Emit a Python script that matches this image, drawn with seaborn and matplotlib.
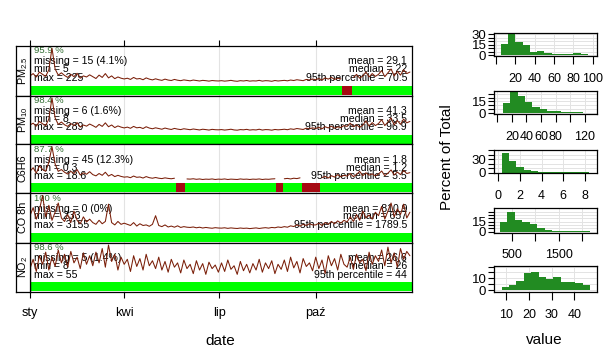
import numpy as np
import pandas as pd
import matplotlib
matplotlib.use("Agg")
import matplotlib.pyplot as plt
import seaborn as sns

sns.set_theme(style="white")
plt.rcParams["font.family"] = ["Liberation Sans", "DejaVu Sans"]
plt.rcParams["mathtext.fontset"] = "custom"
plt.rcParams["mathtext.rm"] = "Liberation Sans"
plt.rcParams["mathtext.it"] = "Liberation Sans:italic"
plt.rcParams["text.color"] = "black"
plt.rcParams["xtick.color"] = "black"
plt.rcParams["ytick.color"] = "black"
plt.rcParams["axes.labelcolor"] = "black"

# ---------------- data ----------------
variables = ["PM2.5", "PM10", "C6H6", "CO 8h", "NO2"]
strip_labels = [r"PM$_{2.5}$", r"PM$_{10}$", "C6H6", "CO 8h", r"NO$_2$"]
month_ticks = ["2013-01-01", "2013-04-01", "2013-07-01", "2013-10-01"]
month_labels = ["sty", "kwi", "lip", "paź"]

nan = np.nan
pm25 = [45, 60, 38, 70, 55, 42, 85, 225, 90, 50, 65,
        48, 35, 55, 40, 62, 30, 45, 38, 52,
        40, 28, 50, 35, 60, 32, 45, 27, 38, 30, 25,
        30, 22, 35, 25, 28, 20, 32, 24, 19, 26,
        20, 16, 24, 18, 15, 22, 17, 14, 19, 16,
        13, 18, 15, 12, 16, 14, 11, 15, 13, 12,
        14, 11, 13, 16, 12, 10, 14, 12, 15, 11,
        13, 12, 16, 11, 14, 13, 10, 15, 12, 14,
        16, 13, 18, 15, 20, 17, 14, 22, 18, 25,
        20, 28, 18, 32, 24, 35, 22, 30, 26, nan,
        nan, nan, 35, 55, 30, 45, 70, 38, 60, 42,
        55, 80, 40, 65, 90, 45, 75, 50, 85, 60, 70]
pm10 = [60, 75, 50, 90, 70, 55, 110, 289, 120, 65, 85,
        62, 48, 72, 55, 80, 42, 60, 50, 68,
        55, 40, 65, 48, 78, 45, 60, 38, 52, 42, 35,
        42, 32, 48, 36, 40, 30, 45, 34, 28, 36,
        30, 24, 34, 27, 22, 31, 25, 21, 28, 24,
        20, 26, 22, 18, 24, 21, 17, 23, 20, 19,
        21, 17, 20, 24, 18, 16, 21, 19, 23, 17,
        20, 18, 24, 17, 21, 20, 16, 22, 19, 21,
        24, 20, 27, 23, 30, 26, 22, 33, 28, 36,
        30, 40, 28, 45, 35, 50, 32, 44, 38, 55,
        48, 75, 45, 62, 40, 58, 95, 50, 80, 55,
        72, 105, 55, 85, 120, 60, 98, 65, 110, 78, 90]
c6h6 = [5, 7, 4, 8, 6, 5, 10, 18.6, 9, 5, 6,
        4.5, 3.5, 5, 3.8, 6, 3, 4.2, 3.4, 4.8,
        3.2, 2.5, 3.8, 2.8, 4.5, 2.4, 3.3, 2.1, 2.8, 2.2, 1.8,
        2.0, 1.5, 2.4, 1.7, 1.9, 1.3, 2.1, 1.5, 1.2, 1.6,
        1.2, 1.0, 1.4, 1.1, 0.9, 1.2, nan, nan, nan, 0.8,
        0.7, 0.9, 0.6, 0.8, 0.5, 0.7, 0.6, 0.8, 0.5, 0.7,
        0.6, 0.8, 0.5, 0.7, 0.6, 0.5, 0.8, 0.6, 0.7, 0.5,
        0.7, 0.6, 0.8, 0.5, 0.7, 0.6, 0.8, 0.9, nan, nan,
        0.9, 1.1, 0.8, 1.2, 1.0, 1.4, nan, nan, nan, nan,
        nan, nan, 1.5, 2.2, 1.3, 2.6, 1.8, 3.2, 2.0, 2.8,
        2.4, 3.8, 2.1, 3.2, 5.0, 2.6, 4.2, 2.9, 3.6, 2.5,
        3.5, 5.2, 2.6, 4.0, 5.8, 3.0, 4.6, 3.2, 5.5, 3.8, 4.3]
co8h = [1400, 2100, 1100, 1900, 3155, 1300, 2300, 1000, 1700, 2500, 1200,
        900, 1500, 800, 1800, 1000, 700, 1300, 850, 1100,
        800, 650, 1000, 700, 900, 2400, 800, 600, 900, 650, 750,
        650, 550, 800, 500, 700, 550, 600, 480, 650, 1400,
        550, 450, 600, 420, 500, 400, 520, 380, 450, 400,
        380, 420, 350, 400, 330, 380, 340, 310, 360, 330,
        320, 350, 300, 340, 310, 290, 330, 300, 320, 280,
        310, 340, 290, 330, 360, 320, 380, 350, 420, 380,
        450, 400, 520, 460, 600, 500, 650, 550, 700, 600,
        600, 750, 550, 800, 650, 900, 700, 950, 750, 1000,
        850, 1300, 900, 1500, 1000, 1800, 1200, 1450, 1100, 1700,
        1400, 2200, 1100, 1800, 2500, 1300, 2000, 1500, 2400, 1200, 1700]
no2 = [22, 35, 18, 40, 28, 45, 20, 38, 25, 48, 30,
       42, 24, 46, 30, 38, 22, 44, 28, 40,
       26, 45, 30, 50, 24, 55, 32, 42, 20, 38, 28,
       35, 18, 40, 25, 36, 20, 42, 26, 33, 22,
       38, 20, 32, 17, 35, 24, 30, 16, 34, 22,
       28, 15, 33, 20, 29, 14, 31, 22, 27, 17,
       30, 18, 34, 21, 26, 14, 32, 19, 28, 16,
       29, 20, 35, 17, 30, 22, 33, 15, 28, 21,
       34, 18, 38, 23, 32, 16, 36, 25, 30, 19,
       38, 22, 34, 15, 40, 26, 36, 20, 42, 28,
       24, 38, 21, 42, 30, 35, 19, 45, 28, 40,
       32, 48, 26, 52, 30, 44, 24, 50, 35, 46, 40]
series = [pm25, pm10, c6h6, co8h, no2]

pct_valid = ["95.9 %", "98.4 %", "87.7 %", "100 %", "98.6 %"]
n_missing = [15, 6, 45, 0, 5]
pct_missing = ["4.1%", "1.6%", "12.3%", "0%", "1.4%"]
v_min = [5, 8, 0.3, 233, 8]
v_max = [225, 289, 18.6, 3155, 55]
v_mean = [29.1, 41.3, 1.8, 810.9, 26.6]
v_median = [22, 33.5, 1.2, 657, 26]
v_p95 = [70.5, 96.9, 5.5, 1789.5, 44]

# histograms (percent of total per bin)
hist_edges = [
    [5, 12.5, 20, 27.5, 35, 42.5, 50, 57.5, 65, 72.5, 80, 87.5, 95],
    [8, 18, 28, 38, 48, 58, 68, 78, 88, 98, 108, 118, 128],
    [0.3, 0.975, 1.65, 2.325, 3.0, 3.675, 4.35, 5.025, 5.7, 6.375, 7.05, 7.725, 8.4],
    [233, 395, 557, 719, 881, 1043, 1205, 1367, 1529, 1691, 1853, 2015, 2177],
    [8, 11.25, 14.5, 17.75, 21, 24.25, 27.5, 30.75, 34, 37.25, 40.5, 43.75, 47],
]
hist_pct = [
    [16, 30, 19, 14, 5, 6, 3, 2, 1.5, 1.5, 2.5, 1],
    [13, 27, 22, 14, 8, 5.5, 2.5, 2.5, 1.5, 1.5, 1.2, 0.8],
    [44, 27, 12, 5, 3.5, 2, 1, 2, 1.5, 1, 0.5, 0.5],
    [14, 30, 17, 14, 12, 5.5, 2.5, 1.5, 1.2, 1, 0.6, 0.7],
    [2.4, 4.7, 7.5, 14.5, 15.6, 11, 9, 11, 7, 7, 5.8, 4.2],
]
hist_xticks = [[0, 20, 40, 60, 80, 100], [0, 20, 40, 60, 80, 100, 120], [0, 2, 4, 6, 8],
               [500, 1000, 1500, 2000], [10, 20, 30, 40]]
hist_xlabels = [["", "20", "40", "60", "80", "100"], ["", "20", "40", "60", "80", "", "120"],
                ["0", "2", "4", "6", "8"], ["500", "", "1500", ""], ["10", "20", "30", "40"]]
hist_yticks = [[0, 15, 30], [0, 15], [0, 30], [0, 15], [0, 10]]
hist_yminor = [[5, 10, 20, 25], [5, 10, 20, 25], [10, 20, 40, 50], [5, 10, 20, 25, 30],
               [5, 15, 20]]
hist_xlim = [(-2, 104), (-4.6, 136.4), (-0.4, 9.08), (106, 2320), (4.6, 49.9)]
hist_ylim = [(-1.2, 31.2), (-1.1, 28.5), (-1.3, 50.8), (-1.4, 35), (-1.7, 20.5)]

# ---------------- style ----------------
W, H = 613, 362
LINE_COL = "#7A1E08"
OK_COL = "#00FF00"
MIS_COL = "#A60A12"
HIST_COL = "#228B22"
PCT_COL = "#2E6B2E"
GRID_COL = "#E3E3E3"


def rect(x0, y0, x1, y1):
    return [x0 / W, 1 - y1 / H, (x1 - x0) / W, (y1 - y0) / H]


fig = plt.figure(figsize=(W / 100, H / 100), dpi=100)
fig.patch.set_facecolor("white")

tops = [45.7, 95.5, 144.3, 193.0, 242.5, 292.0]
sample_dates = pd.date_range("2013-01-01", periods=len(pm25), freq="3D")
x0d, x1d = pd.Timestamp("2013-01-01"), pd.Timestamp("2014-01-01")
ticks = pd.to_datetime(month_ticks)

for i in range(5):
    ax = fig.add_axes(rect(30, tops[i], 412, tops[i + 1]))
    sax = fig.add_axes(rect(16, tops[i], 30, tops[i + 1]))
    vals = np.array(series[i], dtype=float)
    df = pd.DataFrame({"date": sample_dates, "value": vals})
    df["seg"] = df["value"].isna().cumsum()
    dfl = df.dropna()
    rng = v_max[i] - v_min[i]
    lo = v_min[i] - 0.27 / 0.68 * rng
    hi = lo + rng / 0.68
    ax.set_xlim(x0d, x1d)
    ax.set_ylim(lo, hi)
    ax.set_xticks(ticks)
    ax.grid(axis="x", color=GRID_COL, lw=0.8)
    ax.grid(axis="y", visible=False)
    ax.set_axisbelow(True)
    # data-capture bar
    tr = ax.get_xaxis_transform()
    ax.fill_between([x0d, x1d], 0.016, 0.197, transform=tr, color=OK_COL, lw=0, zorder=2)
    for d in df.loc[df["value"].isna(), "date"]:
        ax.fill_between([d - pd.Timedelta(hours=36), d + pd.Timedelta(hours=36)],
                        0.016, 0.197, transform=tr, color=MIS_COL, lw=0, zorder=3)
    sns.lineplot(data=dfl, x="date", y="value", units="seg", estimator=None,
                 color=LINE_COL, lw=0.75, ax=ax, zorder=4)
    ax.set_xlabel("")
    ax.set_ylabel("")
    ax.set_yticks([])
    # texts
    ph = tops[i + 1] - tops[i]
    fy = lambda px: 1 - px / ph
    ax.text(0.011, fy(5.2), pct_valid[i], transform=ax.transAxes, fontsize=6.8,
            color=PCT_COL, va="center", ha="left", zorder=1)
    ax.text(0.011, fy(15.5), f"missing = {n_missing[i]} ({pct_missing[i]})",
            transform=ax.transAxes, fontsize=7.6, va="center", ha="left", zorder=1)
    ax.text(0.011, fy(23.3), f"min = {v_min[i]}", transform=ax.transAxes,
            fontsize=7.6, va="center", ha="left", zorder=1)
    ax.text(0.011, fy(32.0), f"max = {v_max[i]}", transform=ax.transAxes,
            fontsize=7.6, va="center", ha="left", zorder=1)
    ax.text(0.987, fy(15.5), f"mean = {v_mean[i]}", transform=ax.transAxes,
            fontsize=7.6, va="center", ha="right", zorder=1)
    ax.text(0.987, fy(23.3), f"median = {v_median[i]}", transform=ax.transAxes,
            fontsize=7.6, va="center", ha="right", zorder=1)
    ax.text(0.987, fy(32.0), f"95th percentile = {v_p95[i]}", transform=ax.transAxes,
            fontsize=7.6, va="center", ha="right", zorder=1)
    for sp in ax.spines.values():
        sp.set_color("black")
        sp.set_linewidth(0.9)
    ax.tick_params(axis="x", direction="out", length=4.6, width=0.8, color="black",
                   bottom=(i == 4), top=(i == 0), labelbottom=(i == 4),
                   labeltop=False, labelsize=9.2, pad=6.5, labelcolor="black")
    if i == 4:
        ax.set_xticklabels(month_labels)
    # strip
    sax.set_xticks([])
    sax.set_yticks([])
    sax.set_facecolor("white")
    for sp in sax.spines.values():
        sp.set_color("black")
        sp.set_linewidth(0.9)
    sax.text(0.5, 0.5, strip_labels[i], rotation=90, ha="center", va="center",
             fontsize=7.8, transform=sax.transAxes)

fig.text(220 / W, 1 - 341 / H, "date", ha="center", va="center", fontsize=11)

# ---------------- histograms ----------------
hboxes = [(33.3, 56), (91, 114), (150, 173.3), (208.3, 232.5), (266, 292)]
for i in range(5):
    y0, y1 = hboxes[i]
    hax = fig.add_axes(rect(494, y0, 596.7, y1))
    e = [float(v) for v in hist_edges[i]]
    centers = [(a + b) / 2 for a, b in zip(e[:-1], e[1:])]
    hdf = pd.DataFrame({"value": centers, "pct": [float(p) for p in hist_pct[i]]})
    sns.histplot(data=hdf, x="value", weights="pct", bins=e, ax=hax, color=HIST_COL,
                 alpha=1, linewidth=0, edgecolor=HIST_COL)
    hax.set_xlim(*hist_xlim[i])
    hax.set_ylim(*hist_ylim[i])
    hax.set_xticks(hist_xticks[i])
    hax.set_xticklabels(hist_xlabels[i])
    hax.set_yticks(hist_yticks[i])
    hax.set_yticks(hist_yminor[i], minor=True)
    hax.set_xlabel("")
    hax.set_ylabel("")
    hax.grid(True, which="both", color=GRID_COL, lw=0.7)
    hax.set_axisbelow(True)
    for sp in hax.spines.values():
        sp.set_color("black")
        sp.set_linewidth(0.9)
    hax.tick_params(axis="x", direction="out", length=6, width=0.8, color="black",
                    bottom=True, labelsize=9, pad=6, labelcolor="black")
    hax.tick_params(axis="y", which="both", direction="out", length=4, width=0.8,
                    color="black", left=True, labelsize=9.5, pad=1.5, labelcolor="black")

fig.text(544.7 / W, 1 - 340 / H, "value", ha="center", va="center", fontsize=11)
fig.text(447 / W, 1 - 157 / H, "Percent of Total", ha="center", va="center",
         fontsize=11, rotation=90)

fig.savefig("out.png", dpi=100, facecolor="white")
